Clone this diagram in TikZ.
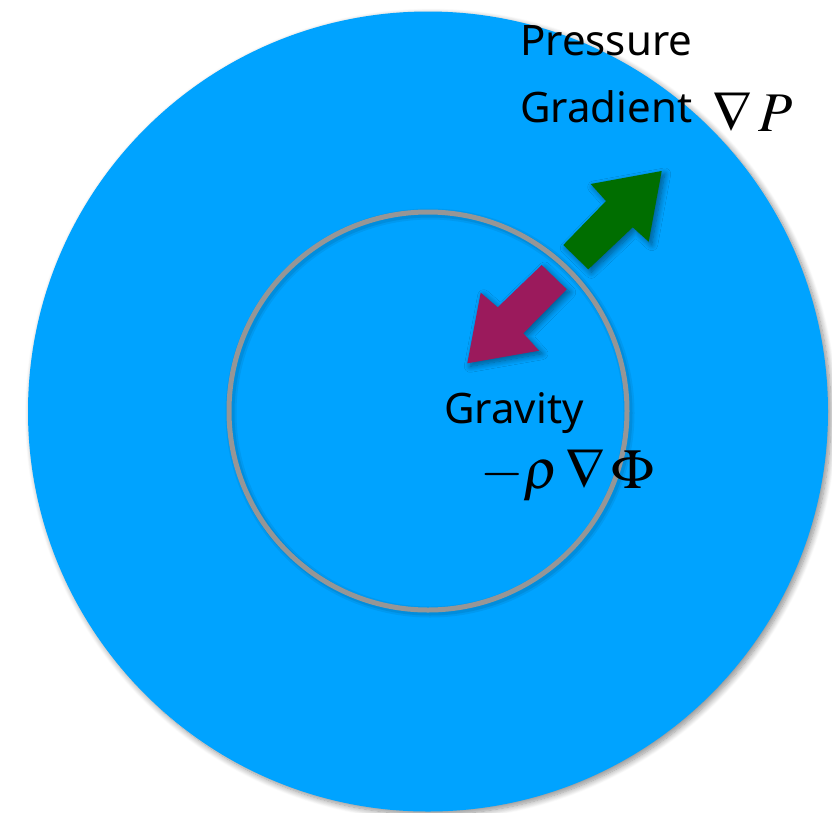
\documentclass[tikz,border=0pt]{standalone}
\usepackage{mathptmx}
\usepackage[no-math]{fontspec}
\setmainfont{Noto Sans}
\usetikzlibrary{shadows.blur}
\definecolor{skyblue}{RGB}{0,163,255}
\definecolor{ringgray}{RGB}{150,150,150}
\definecolor{pgreen}{RGB}{0,110,0}
\definecolor{gmagenta}{RGB}{155,26,92}
\tikzset{
  lbl/.style={anchor=base west, inner sep=0pt, font=\fontsize{42}{42}\selectfont},
  mlbl/.style={anchor=base west, inner sep=0pt, font=\fontsize{56}{56}\selectfont},
  softshadow/.style={blur shadow={shadow xshift=3pt, shadow yshift=-3pt, shadow blur steps=10, shadow blur radius=6pt, shadow opacity=45}},
}
\begin{document}
\begin{tikzpicture}[x=1pt,y=-1pt]
\useasboundingbox (0,0) rectangle (832,812);
% outer sphere
\node[circle, fill=skyblue, minimum size=800pt, inner sep=0pt, softshadow] (outer) at (428,411.5) {};
% soft shadow of the inner ring
\draw[black, opacity=0.06, line width=11pt] (430,413) circle (199);
\draw[black, opacity=0.08, line width=7pt] (430,413) circle (199);
% inner ring
\node[circle, draw=ringgray, line width=5pt, minimum size=398pt, inner sep=0pt] (inner) at (428,411) {};
% pressure gradient arrow (green)
\fill[pgreen, softshadow] (661.7,171) -- (648.7,241.7) -- (632.7,227.3) -- (588.3,269.3)
  -- (563.3,245) -- (606,201) -- (590.7,184) -- cycle;
% gravity arrow (magenta)
\fill[gmagenta, softshadow] (467.3,363.3) -- (480.7,292.7) -- (497.7,307.3) -- (541.7,265)
  -- (566.7,289.3) -- (523.3,333.3) -- (539,350.7) -- cycle;
% labels
\node[lbl] (pres) at (520,55) {Pressure};
\node[lbl] (grad) at (520,122) {Gradient};
\node[mlbl] (gradP) at (712,131) {$\nabla\,P$};
\node[lbl] (grav) at (444,423) {Gravity};
\node[mlbl] (gravF) at (480,488) {$-\rho\,\nabla\,\Phi$};
\end{tikzpicture}
\end{document}
